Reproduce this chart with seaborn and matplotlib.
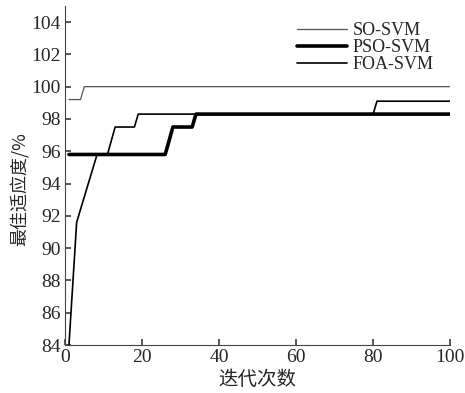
import matplotlib
matplotlib.use("Agg")
import matplotlib.pyplot as plt
import seaborn as sns
import pandas as pd

# Data (corner points of each curve)
so_x = [1, 4, 5, 100]
so_y = [99.2, 99.2, 100.0, 100.0]

pso_x = [1, 26, 28, 33, 34, 100]
pso_y = [95.8, 95.8, 97.5, 97.5, 98.3, 98.3]

foa_x = [1, 2, 3, 8.3, 11, 13, 18, 19, 80, 81, 100]
foa_y = [84.0, 87.8, 91.6, 95.8, 95.8, 97.5, 97.5, 98.3, 98.3, 99.1, 99.1]

sns.set_theme(style="ticks")
plt.rcParams["font.family"] = ["Liberation Serif", "Noto Sans CJK SC"]

fig = plt.figure(figsize=(4.65, 3.93), dpi=100)
ax = fig.add_axes([0.14, 0.122, 0.828, 0.863])

sns.lineplot(x=so_x, y=so_y, ax=ax, color="#555555", linewidth=0.9, label="SO-SVM")
sns.lineplot(x=pso_x, y=pso_y, ax=ax, color="black", linewidth=2.6, label="PSO-SVM")
sns.lineplot(x=foa_x, y=foa_y, ax=ax, color="black", linewidth=1.2, label="FOA-SVM")

ax.set_xlim(0, 100)
ax.set_ylim(84, 105)
ax.set_xticks([0, 20, 40, 60, 80, 100])
ax.set_yticks(range(84, 105, 2))
ax.tick_params(direction="in", labelsize=14, length=4, color="#444444", pad=3)
for s in ["top", "right"]:
    ax.spines[s].set_visible(False)
for s in ["left", "bottom"]:
    ax.spines[s].set_color("#444444")
    ax.spines[s].set_linewidth(0.8)

ax.set_xlabel("迭代次数", fontsize=14, family="Noto Sans CJK SC", labelpad=2)
ax.set_ylabel("最佳适应度/%", fontsize=13, family=["Noto Sans CJK SC"])
ax.yaxis.set_label_coords(-0.095, 0.46)

leg = ax.legend(loc="upper right", frameon=False, fontsize=13, handlelength=2.8,
                handletextpad=0.3, labelspacing=0.0, borderaxespad=0.5)

fig.savefig("out.png", dpi=100)
